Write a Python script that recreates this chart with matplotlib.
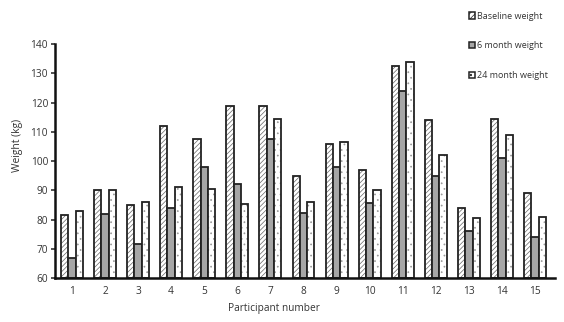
import matplotlib
matplotlib.use("Agg")
import matplotlib.pyplot as plt
import numpy as np
from matplotlib.patches import Patch

plt.rcParams['font.family'] = ['Open Sans', 'DejaVu Sans']
plt.rcParams['hatch.linewidth'] = 0.5

participants = [str(i) for i in range(1, 16)]
baseline = [81.5, 90, 85, 112, 107.5, 118.7, 119, 95, 106, 97, 132.5, 114, 84, 114.5, 89]
month6 = [67, 82, 71.5, 84, 98, 92, 107.5, 82.3, 98, 85.7, 124, 95, 76, 101, 74]
month24 = [83, 90, 86, 91.3, 90.5, 85.3, 114.5, 86, 106.5, 90, 134, 102, 80.5, 109, 81]
labels = ["Baseline weight", "6 month weight", "24 month weight"]

fig = plt.figure(figsize=(5.64, 3.22), dpi=100)
ax = fig.add_axes([0.0975, 0.1366, 0.8865, 0.7264])

x = np.arange(1, len(participants) + 1)
w = 0.22
edge = '#222222'
# hatch layers (lighter hatch colour) then outlines
ax.bar(x - w, [v - 60 for v in baseline], w, bottom=60, facecolor='white',
       edgecolor='#666666', linewidth=0, hatch='///////')
ax.bar(x - w, [v - 60 for v in baseline], w, bottom=60, facecolor='none',
       edgecolor=edge, linewidth=1.3)
ax.bar(x, [v - 60 for v in month6], w, bottom=60, facecolor='#a6a6a6',
       edgecolor=edge, linewidth=1.3)
ax.bar(x + w, [v - 60 for v in month24], w, bottom=60, facecolor='white',
       edgecolor='#999999', linewidth=0, hatch='...')
ax.bar(x + w, [v - 60 for v in month24], w, bottom=60, facecolor='none',
       edgecolor=edge, linewidth=1.3)

ax.set_xlim(0.49, 15.6)
ax.set_ylim(60, 140)
ax.set_yticks(range(60, 141, 10))
ax.set_xticks(x)
ax.set_xticklabels(participants)
for s in ['top', 'right']:
    ax.spines[s].set_visible(False)
for s in ['left', 'bottom']:
    ax.spines[s].set_linewidth(1.8)
    ax.spines[s].set_color('#111111')
ax.tick_params(axis='y', length=3, width=1.2, labelsize=7.3, colors='#333333', pad=2)
ax.tick_params(axis='x', length=0, labelsize=7.3, colors='#333333', pad=6)
ax.set_ylabel("Weight (kg)", fontsize=7.4, color='#333333')
ax.set_xlabel("Participant number", fontsize=7.3, color='#333333')
ax.yaxis.set_label_coords(-0.064, 0.566)
ax.xaxis.set_label_coords(0.438, -0.105)

handles = [
    Patch(facecolor='white', edgecolor='#222222', hatch='//////', linewidth=1.1),
    Patch(facecolor='#a6a6a6', edgecolor='#222222', linewidth=1.1),
    Patch(facecolor='white', edgecolor='#222222', hatch='..', linewidth=1.1),
]
leg = fig.legend(handles, labels, loc='upper left', bbox_to_anchor=(0.826, 0.975),
                 frameon=False, fontsize=6.5, handlelength=0.65, handleheight=0.65,
                 handletextpad=0.15, labelspacing=2.3, borderaxespad=0)
for t in leg.get_texts():
    t.set_color('#333333')

fig.savefig("out.png", dpi=100)
